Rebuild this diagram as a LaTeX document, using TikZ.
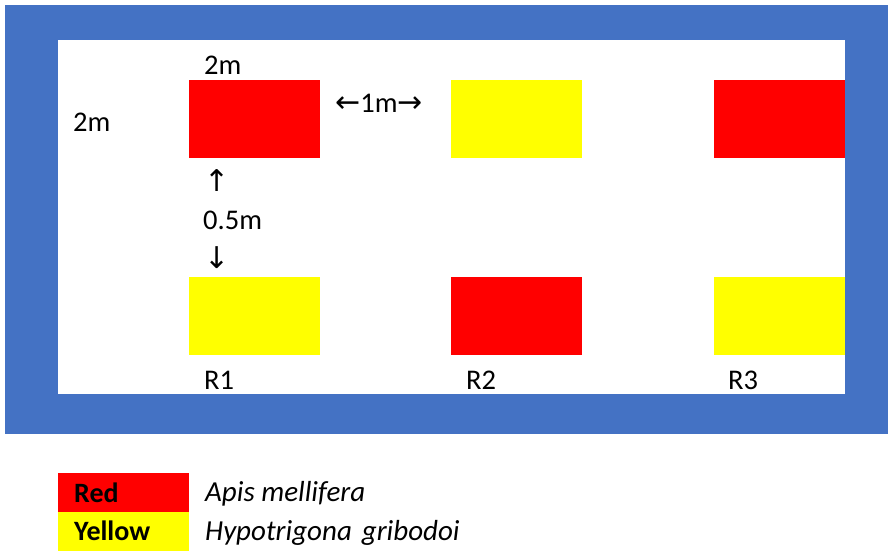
\documentclass[tikz,border=0pt]{standalone}
\usepackage{fontspec}
\setmainfont{Carlito}
\newfontfamily\arrowfont{DejaVu Sans}
\definecolor{frameblue}{HTML}{4472C4}
\definecolor{plotred}{HTML}{FF0000}
\definecolor{plotyellow}{HTML}{FFFF00}
\newcommand{\arw}[1]{{\arrowfont\fontsize{30}{32}\selectfont #1}}
\begin{document}
\begin{tikzpicture}[x=1pt,y=-1pt,
  plotbox/.style={draw=none,minimum width=131pt,minimum height=78pt,inner sep=0pt,outer sep=0pt},
  legbox/.style={draw=none,minimum width=131pt,minimum height=39pt,inner sep=0pt,outer sep=0pt},
  lbl/.style={font=\fontsize{28.5}{31}\selectfont,inner sep=0pt,anchor=west},
  legtxt/.style={font=\fontsize{28}{31}\selectfont\bfseries,inner sep=0pt,anchor=west},
  spec/.style={font=\fontsize{29}{31}\selectfont\itshape,inner sep=0pt,anchor=west}]
\useasboundingbox (0,0) rectangle (888,550);
% field frame
\fill[frameblue] (5,5) rectangle (888,434);
\fill[white] (58,40) rectangle (845,394);
% plots
\node[plotbox,fill=plotred]    (p1) at (254.5,119) {};
\node[plotbox,fill=plotyellow] (p2) at (516.5,119) {};
\node[plotbox,fill=plotred]    (p3) at (779,119) {};
\node[plotbox,fill=plotyellow] (q1) at (254.5,315.5) {};
\node[plotbox,fill=plotred]    (q2) at (516.5,315.5) {};
\node[plotbox,fill=plotyellow] (q3) at (779,315.5) {};
% dimension labels
\node[lbl] (w) at (204,65) {2m};
\node[lbl] (h) at (73,122) {2m};
\node[lbl] (gap) at (335,103) {\arw{←}1m\arw{→}};
\node[lbl,anchor=center] (up) at (217,181) {\arw{↑}};
\node[lbl] (half) at (203,220) {0.5m};
\node[lbl,anchor=center] (down) at (217,258) {\arw{↓}};
% replicate labels
\node[lbl] (r1) at (204,380) {R1};
\node[lbl] (r2) at (466,380) {R2};
\node[lbl] (r3) at (728,380) {R3};
% legend
\node[legbox,fill=plotred]    (lr) at (123.5,492.5) {};
\node[legbox,fill=plotyellow] (ly) at (123.5,531) {};
\node[legtxt] (lrt) at ([xshift=16pt]lr.west) {Red};
\node[legtxt] (lyt) at ([xshift=16pt]ly.west) {Yellow};
\node[spec] (am) at (205,494) {Apis mellifera};
\node[spec] (hg) at (205,533) {Hypotrigona\hspace{10pt}gribodoi};
\end{tikzpicture}
\end{document}
